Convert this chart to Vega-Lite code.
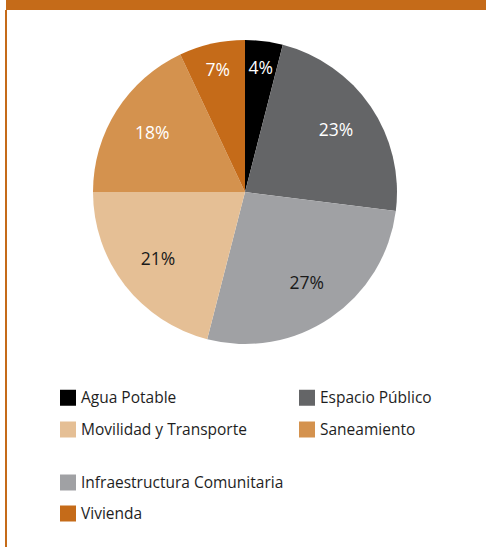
{
  "$schema": "https://vega.github.io/schema/vega-lite/v6.json",
  "background": "white",
  "padding": {"left": 5, "top": 0, "right": 0, "bottom": 0},
  "spacing": 0,
  "bounds": "flush",
  "config": {"view": {"stroke": null}, "font": "Open Sans"},
  "datasets": {
    "slices": [
      {"cat": "Agua Potable", "v": 0.04},
      {"cat": "Espacio Público", "v": 0.23},
      {"cat": "Infraestructura Comunitaria", "v": 0.27},
      {"cat": "Movilidad y Transporte", "v": 0.21},
      {"cat": "Saneamiento", "v": 0.18},
      {"cat": "Vivienda", "v": 0.07}
    ]
  },
  "vconcat": [
    {
      "width": 481,
      "height": 10,
      "view": {"fill": "#c56b19", "stroke": null},
      "data": {"name": "slices"},
      "mark": {"type": "point", "opacity": 0},
      "encoding": {}
    },
    {
      "width": 478,
      "height": 364,
      "view": {"stroke": "#c56b19", "strokeWidth": 2, "strokeDash": [0, 1320, 364, 0]},
      "data": {"name": "slices"},
      "transform": [
        {"stack": "v", "groupby": [], "as": ["start", "end"]},
        {"calculate": "(datum.start + datum.end) / 2", "as": "mid"}
      ],
      "layer": [
        {
          "mark": {"type": "arc", "outerRadius": 152},
          "encoding": {
            "theta": {"field": "start", "type": "quantitative", "scale": {"domain": [0, 1]}},
            "theta2": {"field": "end"},
            "color": {
              "field": "cat",
              "type": "nominal",
              "scale": {
                "domain": ["Agua Potable", "Espacio Público", "Infraestructura Comunitaria", "Movilidad y Transporte", "Saneamiento", "Vivienda"],
                "range": ["#000000", "#646567", "#a0a1a4", "#e5bf95", "#d4924e", "#c56b19"]
              },
              "legend": null
            }
          }
        },
        {
          "transform": [{"filter": "datum.v >= 0.1"}],
          "mark": {"type": "text", "radius": 110, "fontSize": 17.5, "align": "center", "baseline": "middle", "dy": 1},
          "encoding": {
            "theta": {"field": "mid", "type": "quantitative", "scale": {"domain": [0, 1]}},
            "text": {"field": "v", "type": "quantitative", "format": ".0%"},
            "color": {
              "condition": {"test": "datum.cat === 'Movilidad y Transporte' || datum.cat === 'Infraestructura Comunitaria'", "value": "#1a1a1a"},
              "value": "#ffffff"
            }
          }
        },
        {
          "transform": [{"filter": "datum.v < 0.1"}],
          "mark": {"type": "text", "radius": 125, "fontSize": 17.5, "align": "center", "baseline": "middle", "dy": 1, "color": "#ffffff"},
          "encoding": {
            "theta": {"field": "mid", "type": "quantitative", "scale": {"domain": [0, 1]}},
            "text": {"field": "v", "type": "quantitative", "format": ".0%"}
          }
        }
      ]
    },
    {
      "width": 478,
      "height": 173,
      "view": {"stroke": "#c56b19", "strokeWidth": 2, "strokeDash": [0, 1129, 173, 0]},
      "data": {"name": "slices"},
      "layer": [
        {
          "transform": [{"filter": {"field": "cat", "oneOf": ["Agua Potable", "Espacio Público", "Movilidad y Transporte", "Saneamiento"]}}],
          "mark": {"type": "square", "opacity": 0},
          "encoding": {
            "color": {
              "field": "cat",
              "type": "nominal",
              "scale": {
                "domain": ["Agua Potable", "Movilidad y Transporte", "Espacio Público", "Saneamiento"],
                "range": ["#000000", "#e5bf95", "#646567", "#d4924e"]
              },
              "legend": {
                "title": null,
                "orient": "none",
                "legendX": 54,
                "legendY": 15.5,
                "columns": 2,
                "columnPadding": 52,
                "rowPadding": 15,
                "padding": 0,
                "symbolType": "square",
                "symbolSize": 256,
                "symbolStrokeWidth": 0,
                "labelFont": "Open Sans",
                "labelFontSize": 15.5,
                "labelColor": "#1e1e1e",
                "labelOffset": 5,
                "labelLimit": 400
              }
            }
          }
        },
        {
          "transform": [{"filter": {"field": "cat", "oneOf": ["Infraestructura Comunitaria", "Vivienda"]}}],
          "mark": {"type": "square", "opacity": 0},
          "encoding": {
            "color": {
              "field": "cat",
              "type": "nominal",
              "scale": {
                "domain": ["Infraestructura Comunitaria", "Vivienda"],
                "range": ["#a0a1a4", "#c56b19"]
              },
              "legend": {
                "title": null,
                "orient": "none",
                "legendX": 54,
                "legendY": 100.5,
                "columns": 1,
                "rowPadding": 14,
                "padding": 0,
                "symbolType": "square",
                "symbolSize": 256,
                "symbolStrokeWidth": 0,
                "labelFont": "Open Sans",
                "labelFontSize": 15.5,
                "labelColor": "#1e1e1e",
                "labelOffset": 5,
                "labelLimit": 400
              }
            }
          }
        }
      ],
      "resolve": {"scale": {"color": "independent"}}
    }
  ],
  "resolve": {"scale": {"color": "independent", "theta": "independent"}}
}
